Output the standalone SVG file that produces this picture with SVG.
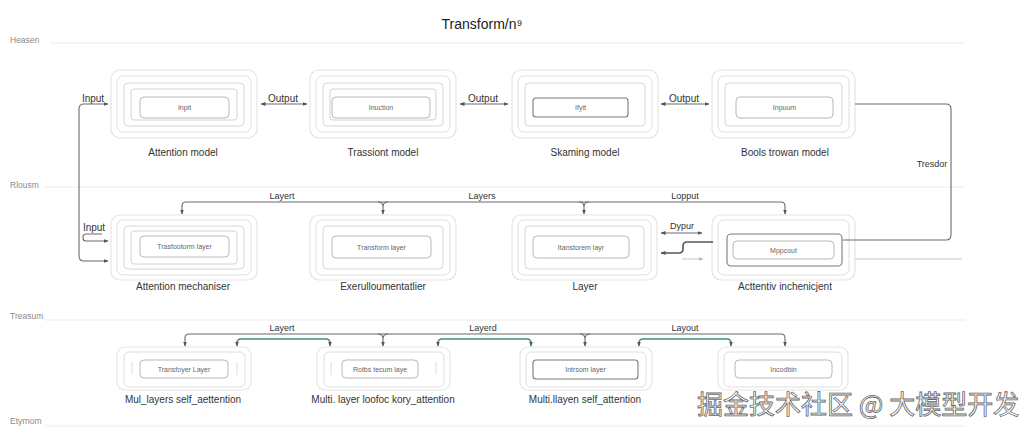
<svg xmlns="http://www.w3.org/2000/svg" width="1024" height="436" viewBox="0 0 1024 436">
<style>
text{font-family:"Liberation Sans","Noto Sans",Arial,sans-serif}
.title{font-size:14px;fill:#222;text-anchor:middle}
.sec{font-size:8.5px;fill:#8a8a8a}
.secline{stroke:#ececec;stroke-width:1.2;fill:none}
.o0{fill:#fff;stroke:#e4e4e4;stroke-width:1.2}
.o1{fill:none;stroke:#dedede;stroke-width:1}
.o2{fill:none;stroke:#d6d6d6;stroke-width:1}
.o3{fill:none;stroke:#d2d2d2;stroke-width:1}
.box{fill:#fff;stroke:#b8b8b8;stroke-width:1}
.boxd{fill:#fff;stroke:#7a7a7a;stroke-width:1.1}
.tick{stroke:#dcdcdc;stroke-width:1}
.lbl{font-size:7px;fill:#666;text-anchor:middle}
.cap{font-size:10px;fill:#333;text-anchor:middle}
.cl{font-size:10px;fill:#333;text-anchor:middle}
.cl9{font-size:9px;fill:#333;text-anchor:middle}
.ln{fill:none;stroke:#6a6a6a;stroke-width:1.1}
.lnt{fill:none;stroke:#3d8f86;stroke-width:1.3}
.lnk{fill:none;stroke:#555;stroke-width:1.6}
.lnf{fill:none;stroke:#c4c4c4;stroke-width:1}
.wm{font-family:"Noto Sans CJK SC","Liberation Sans",sans-serif;font-size:26px;fill:#fff;stroke:#666;stroke-width:0.8}
</style>
<defs>
<marker id="ah" viewBox="0 0 10 10" refX="9" refY="5" markerWidth="5" markerHeight="5" orient="auto-start-reverse" markerUnits="userSpaceOnUse">
<path d="M0,1 L10,5 L0,9 z" fill="#555"/>
</marker>
<marker id="ahf" viewBox="0 0 10 10" refX="9" refY="5" markerWidth="5" markerHeight="5" orient="auto-start-reverse" markerUnits="userSpaceOnUse">
<path d="M0,1 L10,5 L0,9 z" fill="#bbb"/>
</marker>
</defs>
<rect width="1024" height="436" fill="#fff"/>

<text class="title" x="482" y="29">Transform/n⁹</text>

<g id="sections">
<text class="sec" x="10" y="43">Heasen</text>
<line class="secline" x1="50" y1="43" x2="965" y2="43"/>
<text class="sec" x="10" y="188">Rlousm</text>
<line class="secline" x1="45" y1="187" x2="965" y2="187"/>
<text class="sec" x="10" y="319">Treasum</text>
<line class="secline" x1="45" y1="320" x2="965" y2="320"/>
<text class="sec" x="10" y="424">Etyrnom</text>
<line class="secline" x1="45" y1="426" x2="965" y2="426"/>
</g>

<!-- Row 1 -->
<g id="n1" transform="translate(111,70)">
<rect class="o0" x="0" y="0" width="146" height="68" rx="9"/>
<rect class="o1" x="6" y="6" width="134" height="56" rx="6"/>
<rect class="o2" x="13" y="13" width="120" height="43" rx="4"/>
<rect class="o3" x="20" y="19" width="106" height="31" rx="3"/>
<rect class="box" x="29" y="27" width="89" height="21" rx="4"/>
<text class="lbl" x="73.5" y="40">Inpit</text>
<text class="cap" x="72" y="86">Attention model</text>
</g>
<g id="n2" transform="translate(310,70)">
<rect class="o0" x="0" y="0" width="146" height="68" rx="9"/>
<rect class="o1" x="6" y="6" width="134" height="56" rx="6"/>
<rect class="o2" x="13" y="13" width="120" height="43" rx="4"/>
<rect class="o3" x="20" y="19" width="106" height="31" rx="3"/>
<rect class="box" x="22" y="27" width="98" height="21" rx="4"/>
<text class="lbl" x="71" y="40">Inuction</text>
<text class="cap" x="73" y="86">Trassiont model</text>
</g>
<g id="n3" transform="translate(512,70)">
<rect class="o0" x="0" y="0" width="146" height="68" rx="9"/>
<rect class="o1" x="6" y="6" width="134" height="56" rx="6"/>
<rect class="o2" x="13" y="13" width="120" height="43" rx="4"/>
<rect class="boxd" x="21" y="28" width="95" height="19" rx="3"/>
<text class="lbl" x="68.5" y="40">Ifyit</text>
<text class="cap" x="73" y="86">Skaming model</text>
</g>
<g id="n4" transform="translate(712,70)">
<rect class="o0" x="0" y="0" width="143" height="68" rx="9"/>
<rect class="o1" x="6" y="6" width="131" height="56" rx="6"/>
<rect class="o2" x="13" y="13" width="117" height="43" rx="4"/>
<rect class="box" x="24" y="27" width="97" height="21" rx="4"/>
<text class="lbl" x="72.5" y="40">Inpuum</text>
<text class="cap" x="73" y="86">Bools trowan model</text>
</g>

<!-- Row 2 -->
<g id="n5" transform="translate(111,215)">
<rect class="o0" x="0" y="0" width="146" height="65" rx="9"/>
<rect class="o1" x="6" y="5" width="134" height="55" rx="6"/>
<rect class="o2" x="13" y="11" width="120" height="43" rx="4"/>
<rect class="o3" x="20" y="16" width="106" height="33" rx="3"/>
<rect class="box" x="29" y="21" width="89" height="21" rx="4"/>
<text class="lbl" x="73.5" y="34">Trasfootorm layer</text>
<text class="cap" x="72" y="75">Attention mechaniser</text>
</g>
<g id="n6" transform="translate(310,215)">
<rect class="o0" x="0" y="0" width="146" height="65" rx="9"/>
<rect class="o1" x="6" y="5" width="134" height="55" rx="6"/>
<rect class="o2" x="13" y="11" width="120" height="43" rx="4"/>
<rect class="box" x="22" y="21" width="99" height="22" rx="4"/>
<text class="lbl" x="71.5" y="34.5">Transform layer</text>
<text class="cap" x="73" y="75">Exerulloumentatlier</text>
</g>
<g id="n7" transform="translate(512,215)">
<rect class="o0" x="0" y="0" width="145" height="65" rx="9"/>
<rect class="o1" x="6" y="5" width="133" height="55" rx="6"/>
<rect class="o2" x="13" y="11" width="119" height="43" rx="4"/>
<rect class="box" x="21" y="21" width="96" height="22" rx="4"/>
<text class="lbl" x="69" y="34.5">Itanstorem layr</text>
<text class="cap" x="73" y="75">Layer</text>
</g>
<g id="n8" transform="translate(712,215)">
<rect class="o0" x="0" y="0" width="143" height="65" rx="9"/>
<rect class="o1" x="6" y="5" width="131" height="55" rx="6"/>
<rect class="boxd" x="15" y="19" width="115" height="32" rx="4"/>
<rect class="box" x="21" y="26" width="101" height="18" rx="4"/>
<text class="lbl" x="71.5" y="37.5">Mppcout</text>
<text class="cap" x="73" y="75">Acttentiv inchenicjent</text>
</g>

<!-- Row 3 -->
<g id="n9" transform="translate(117,347)">
<rect class="o0" x="0" y="0" width="134" height="43" rx="8"/>
<rect class="o1" x="7" y="5" width="121" height="35" rx="5"/>
<line class="tick" x1="15" y1="15" x2="15" y2="28"/>
<line class="tick" x1="120" y1="15" x2="120" y2="28"/>
<rect class="box" x="23" y="13" width="88" height="18" rx="4"/>
<text class="lbl" x="67" y="24.5">Transfoyer Layer</text>
<text class="cap" x="66" y="56">Mul_layers self_aettention</text>
</g>
<g id="n10" transform="translate(317,347)">
<rect class="o0" x="0" y="0" width="133" height="43" rx="8"/>
<rect class="o1" x="7" y="5" width="120" height="35" rx="5"/>
<line class="tick" x1="14" y1="15" x2="14" y2="28"/>
<line class="tick" x1="119" y1="15" x2="119" y2="28"/>
<rect class="box" x="25" y="13" width="76" height="18" rx="4"/>
<text class="lbl" x="63" y="24.5">Rotbs tecum laye</text>
<text class="cap" x="66" y="56">Multi. layer loofoc kory_attention</text>
</g>
<g id="n11" transform="translate(520,347)">
<rect class="o0" x="0" y="0" width="132" height="43" rx="8"/>
<rect class="o1" x="6" y="5" width="120" height="35" rx="5"/>
<rect class="boxd" x="13" y="13" width="105" height="19" rx="3"/>
<text class="lbl" x="65.5" y="25">Intrsom layer</text>
<text class="cap" x="65" y="56">Multi.llayen self_attention</text>
</g>
<g id="n12" transform="translate(718,347)">
<rect class="o0" x="0" y="0" width="130" height="43" rx="8"/>
<rect class="o1" x="6" y="5" width="118" height="35" rx="5"/>
<rect class="box" x="17" y="13" width="97" height="18" rx="4"/>
<text class="lbl" x="65.5" y="24.5">Incodbin</text>
</g>

<g id="connectors">
<!-- row 1 -->
<path class="ln" d="M108 104 H84 Q79 104 79 109 V256 Q79 261 84 261 H108" marker-start="url(#ah)" marker-end="url(#ah)"/>
<text class="cl" x="93" y="102">Input</text>
<path class="ln" d="M261 104 H307" marker-start="url(#ah)" marker-end="url(#ah)"/>
<text class="cl" x="283" y="102">Output</text>
<path class="ln" d="M460 104 H508" marker-start="url(#ah)" marker-end="url(#ah)"/>
<text class="cl" x="483" y="102">Output</text>
<path class="ln" d="M661 104 H709" marker-start="url(#ah)" marker-end="url(#ah)"/>
<text class="cl" x="684" y="102">Output</text>
<path class="ln" d="M855 104 H946 Q951 104 951 109 V235 Q951 240 946 240 H843"/>
<text class="cl9" x="932" y="167">Tresdor</text>

<!-- row 2 -->
<path class="ln" d="M102 234 H86 Q83 234 83 237 V238 Q83 241 86 241 H108" marker-end="url(#ah)"/>
<text class="cl" x="94" y="231">Input</text>
<path class="ln" d="M182 214 V206 Q182 202 186 202 H781 Q785 202 785 206 V214" marker-start="url(#ah)" marker-end="url(#ah)"/>
<path class="ln" d="M378 202 Q383 202 383 207 Q383 202 388 202 M383 207 V214" marker-end="url(#ah)"/>
<path class="ln" d="M579 202 Q584 202 584 207 Q584 202 589 202 M584 207 V214" marker-end="url(#ah)"/>
<text class="cl9" x="282" y="199">Layert</text>
<text class="cl9" x="482" y="199">Layers</text>
<text class="cl9" x="685" y="199">Lopput</text>
<path class="ln" d="M661 233 H702" marker-start="url(#ah)" marker-end="url(#ah)"/>
<text class="cl9" x="682" y="229">Dypur</text>
<path class="lnk" d="M713 242 H687 Q683 242 683 246 V249 Q683 253 679 253 H661" marker-end="url(#ah)"/>
<path class="lnf" d="M682 259 H703" marker-end="url(#ahf)"/>
<path class="lnf" d="M855 259 H962"/>

<!-- row 3 -->
<path class="ln" d="M185 346 V338 Q185 334 189 334 H781 Q785 334 785 338 V346" marker-start="url(#ah)" marker-end="url(#ah)"/>
<path class="ln" d="M378 334 Q383 334 383 339 Q383 334 388 334 M383 339 V346" marker-end="url(#ah)"/>
<path class="ln" d="M580 334 Q585 334 585 339 Q585 334 590 334 M585 339 V346" marker-end="url(#ah)"/>
<text class="cl9" x="282" y="331">Layert</text>
<text class="cl9" x="483" y="331">Layerd</text>
<text class="cl9" x="685" y="331">Layout</text>
<path class="lnt" d="M237 346 V343 Q237 339 241 339 H326 Q330 339 330 343 V346" marker-start="url(#ah)" marker-end="url(#ah)"/>
<path class="lnt" d="M438 346 V343 Q438 339 442 339 H527 Q531 339 531 343 V346" marker-start="url(#ah)" marker-end="url(#ah)"/>
<path class="lnt" d="M639 346 V343 Q639 339 643 339 H727 Q731 339 731 343 V346" marker-start="url(#ah)" marker-end="url(#ah)"/>
</g>

<text class="wm" x="697" y="414">掘金技术社区 @ 大模型开发</text>
</svg>
